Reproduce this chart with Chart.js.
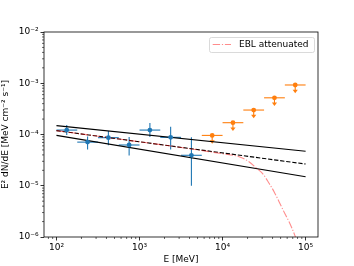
<!DOCTYPE html>
<html>
<head>
<meta charset="utf-8">
<script src="https://cdn.jsdelivr.net/npm/chart.js@4"></script>
<style>
  html, body { margin: 0; padding: 0; background: #fff; }
</style>
</head>
<body>
<canvas id="sed" width="354" height="266"></canvas>
<script>
// detected bins (blue)
var detE    = [133, 237, 422, 750, 1334, 2371, 4217];
var detEmin = [100, 178, 316, 562, 1000, 1778, 3162];
var detEmax = [178, 316, 562, 1000, 1778, 3162, 5623];
var detFlux = [1.22e-4, 7.1e-5, 8.67e-5, 6.24e-5, 1.22e-4, 8.8e-5, 3.93e-5];
var detLo   = [9.8e-5, 5.1e-5, 6.2e-5, 3.9e-5, 8.9e-5, 5.1e-5, 1.0e-5];
var detHi   = [1.53e-4, 9.1e-5, 1.17e-4, 8.9e-5, 1.68e-4, 1.42e-4, 8.8e-5];

// upper limits (orange)
var ulE    = [7499, 13335, 23714, 42170, 74989];
var ulEmin = [5623, 10000, 17783, 31623, 56234];
var ulEmax = [10000, 17783, 31623, 56234, 100000];
var ulFlux = [9.6e-5, 1.7e-4, 3.0e-4, 5.2e-4, 9.25e-4];
var ulTip  = [6.6e-5, 1.17e-4, 2.07e-4, 3.6e-4, 6.4e-4];

// model power law + butterfly edges
var lineE      = [100, 100000];
var modelFlux  = [1.19e-4, 2.65e-5];
var upperFlux  = [1.49e-4, 4.7e-5];
var lowerFlux  = [9.6e-5, 1.5e-5];

// EBL attenuated model
var eblE    = [100, 1000, 3000, 10000, 15800, 20800, 25400, 30200, 36300, 42000, 47900, 56600, 63200, 74600, 100000];
var eblFlux = [1.19e-4, 7.2e-5, 5.65e-5, 4.2e-5, 3.69e-5, 2.94e-5, 2.22e-5, 1.75e-5, 1.12e-5, 7.5e-6, 4.89e-6, 2.8e-6, 1.99e-6, 1.05e-6, 2.5e-7];

var xTicks = [100, 1000, 10000, 100000];
var yTicks = [1e-6, 1e-5, 1e-4, 1e-3, 1e-2];

var blue = '#1f77b4';
var orange = '#ff7f0e';
var eblColor = 'rgba(255,0,0,0.45)';
var font = { family: 'DejaVu Sans', size: 9 };

function pts(xs, ys) {
  return xs.map(function (v, i) { return { x: v, y: ys[i] }; });
}

var sup = { '-': '⁻', '0': '⁰', '1': '¹', '2': '²', '3': '³', '4': '⁴', '5': '⁵', '6': '⁶', '7': '⁷', '8': '⁸', '9': '⁹' };
function powLabel(v) {
  var e = String(Math.round(Math.log10(v)));
  return '10' + e.split('').map(function (c) { return sup[c]; }).join('');
}

function line(ctx, x1, y1, x2, y2) {
  ctx.beginPath();
  ctx.moveTo(x1, y1);
  ctx.lineTo(x2, y2);
  ctx.stroke();
}

var errorBars = {
  id: 'errorBars',
  beforeDatasetsDraw: function (chart) {
    var ctx = chart.ctx, x = chart.scales.x, y = chart.scales.y, a = chart.chartArea;
    ctx.save();
    ctx.beginPath();
    ctx.rect(a.left, a.top, a.right - a.left, a.bottom - a.top);
    ctx.clip();
    ctx.lineWidth = 1.1;
    ctx.strokeStyle = blue;
    detE.forEach(function (e, i) {
      var px = x.getPixelForValue(e), py = y.getPixelForValue(detFlux[i]);
      line(ctx, x.getPixelForValue(detEmin[i]), py, x.getPixelForValue(detEmax[i]), py);
      line(ctx, px, y.getPixelForValue(detLo[i]), px, y.getPixelForValue(detHi[i]));
    });
    ctx.strokeStyle = orange;
    ctx.fillStyle = orange;
    ulE.forEach(function (e, i) {
      var px = x.getPixelForValue(e), py = y.getPixelForValue(ulFlux[i]);
      var tip = y.getPixelForValue(ulTip[i]);
      line(ctx, x.getPixelForValue(ulEmin[i]), py, x.getPixelForValue(ulEmax[i]), py);
      line(ctx, px, py, px, tip - 2);
      ctx.beginPath();
      ctx.moveTo(px - 2.6, tip - 3.5);
      ctx.lineTo(px + 2.6, tip - 3.5);
      ctx.lineTo(px, tip);
      ctx.closePath();
      ctx.fill();
    });
    ctx.restore();
  }
};

var frame = {
  id: 'frame',
  afterDraw: function (chart) {
    var ctx = chart.ctx, x = chart.scales.x, y = chart.scales.y, a = chart.chartArea;
    ctx.save();
    ctx.strokeStyle = '#000';
    ctx.lineWidth = 0.8;
    ctx.strokeRect(a.left, a.top, a.right - a.left, a.bottom - a.top);
    // minor ticks
    ctx.lineWidth = 0.6;
    for (var d = 1; d <= 5; d++) {
      for (var m = 2; m <= 9; m++) {
        var v = m * Math.pow(10, d);
        var px = x.getPixelForValue(v);
        if (px > a.left && px < a.right) line(ctx, px, a.bottom, px, a.bottom + 2);
      }
    }
    for (var d2 = -6; d2 <= -3; d2++) {
      for (var m2 = 2; m2 <= 9; m2++) {
        var py = y.getPixelForValue(m2 * Math.pow(10, d2));
        line(ctx, a.left - 2, py, a.left, py);
      }
    }
    // legend
    var lx = 209.5, ly = 37.5, lw = 105, lh = 15;
    ctx.fillStyle = 'rgba(255,255,255,0.8)';
    ctx.strokeStyle = '#d0d0d0';
    ctx.lineWidth = 0.8;
    ctx.beginPath();
    ctx.roundRect(lx, ly, lw, lh, 2);
    ctx.fill();
    ctx.stroke();
    ctx.strokeStyle = eblColor;
    ctx.lineWidth = 1.1;
    ctx.setLineDash([7.4, 1.8, 1.2, 1.8]);
    line(ctx, 212.7, 44.5, 231, 44.5);
    ctx.setLineDash([]);
    ctx.fillStyle = '#000';
    ctx.font = '9px "DejaVu Sans"';
    ctx.textBaseline = 'middle';
    ctx.fillText('EBL attenuated', 239, 45);
    ctx.restore();
  }
};

new Chart(document.getElementById('sed'), {
  type: 'line',
  data: {
    datasets: [
      { data: pts(detE, detFlux), showLine: false, pointRadius: 2.4, pointBackgroundColor: blue, pointBorderWidth: 0, order: 0 },
      { data: pts(ulE, ulFlux), showLine: false, pointRadius: 2.4, pointBackgroundColor: orange, pointBorderWidth: 0, order: 0 },
      { label: 'EBL attenuated', data: pts(eblE, eblFlux), borderColor: eblColor, borderWidth: 1.1, borderDash: [7.4, 1.8, 1.2, 1.8], pointRadius: 0, cubicInterpolationMode: 'monotone', order: 1 },
      { data: pts(lineE, modelFlux), borderColor: '#000', borderWidth: 1.1, borderDash: [4.3, 1.8], pointRadius: 0, order: 2 },
      { data: pts(lineE, upperFlux), borderColor: '#000', borderWidth: 1.1, pointRadius: 0, order: 2 },
      { data: pts(lineE, lowerFlux), borderColor: '#000', borderWidth: 1.1, pointRadius: 0, order: 2 }
    ]
  },
  options: {
    responsive: false,
    animation: false,
    devicePixelRatio: 1,
    layout: { padding: { top: 32, right: 36, left: 0, bottom: 0 } },
    plugins: { legend: { display: false }, tooltip: { enabled: false } },
    scales: {
      x: {
        type: 'logarithmic',
        min: 70.8,
        max: 141000,
        afterFit: function (s) { s.height = 29; },
        afterBuildTicks: function (s) { s.ticks = xTicks.map(function (v) { return { value: v }; }); },
        ticks: { font: font, color: '#000', padding: 2, maxRotation: 0, autoSkip: false, callback: function (v) { return powLabel(v); } },
        grid: { drawOnChartArea: false, tickLength: 3.5, tickColor: '#000', tickWidth: 0.8 },
        border: { display: false },
        title: { display: true, text: 'E [MeV]', font: font, color: '#000', padding: { top: 0, bottom: 1 } }
      },
      y: {
        type: 'logarithmic',
        min: 1e-6,
        max: 1e-2,
        afterFit: function (s) { s.width = 44; },
        afterBuildTicks: function (s) { s.ticks = yTicks.map(function (v) { return { value: v }; }); },
        ticks: { font: font, color: '#000', padding: 2, autoSkip: false, callback: function (v) { return powLabel(v); } },
        grid: { drawOnChartArea: false, tickLength: 3.5, tickColor: '#000', tickWidth: 0.8 },
        border: { display: false },
        title: { display: true, text: 'E² dN/dE [MeV cm⁻² s⁻¹]', font: font, color: '#000', padding: { top: 0, bottom: 0 } }
      }
    }
  },
  plugins: [errorBars, frame]
});
</script>
</body>
</html>
